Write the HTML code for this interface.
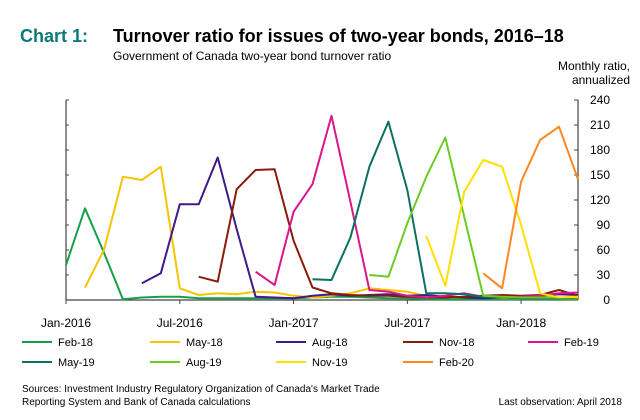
<!DOCTYPE html>
<html><head><meta charset="utf-8"><style>
body{margin:0;background:#fff;width:640px;height:415px;overflow:hidden;font-family:"Liberation Sans",Arial,sans-serif;}
</style></head><body>
<svg id="c" width="640" height="415" xmlns="http://www.w3.org/2000/svg">
<text x="20" y="42" font-size="18" font-weight="bold" fill="#0b7a7a">Chart 1:</text>
<text x="113" y="42" font-size="18" font-weight="bold" fill="#000">Turnover ratio for issues of two-year bonds, 2016–18</text>
<text x="113" y="60" font-size="12" fill="#000">Government of Canada two-year bond turnover ratio</text>
<text x="630" y="70" font-size="12" text-anchor="end">Monthly ratio,</text>
<text x="630" y="84" font-size="12" text-anchor="end">annualized</text>
<g id="axes"></g><g id="series"></g><g id="legend"></g>
<text x="22" y="392" font-size="10">Sources: Investment Industry Regulatory Organization of Canada's Market Trade</text>
<text x="22" y="405" font-size="10">Reporting System and Bank of Canada calculations</text>
<text x="622" y="405" font-size="10" text-anchor="end">Last observation: April 2018</text>
</svg>
<script>
const yTicks=[0,30,60,90,120,150,180,210,240];
const xLabels=["Jan-2016","Jul-2016","Jan-2017","Jul-2017","Jan-2018"];
const xLabelMonths=[0,6,12,18,24];
const seriesNames=["Feb-18","May-18","Aug-18","Nov-18","Feb-19","May-19","Aug-19","Nov-19","Feb-20"];
const seriesColors=["#12a04a","#f7c400","#3f1a8a","#8b1a0a","#d9168c","#0b7060","#6acc22","#ffe000","#ff8820"];
const s0=[42,110,57,1,3,4,4,2,2,2,2,2,2,3,4,4,3,2,2,1,1,1,1,1,1,1,1,1];
const s1=[null,15,60,148,144,160,14,6,8,7,10,9,5,3,5,8,14,12,10,5,3,3,3,2,2,2,2,2];
const s2=[null,null,null,null,20,32,115,115,171,85,4,3,2,5,7,5,6,7,5,6,4,3,2,3,3,5,7,6];
const s3=[null,null,null,null,null,null,null,28,22,133,156,157,71,15,8,6,5,5,4,3,3,4,5,6,5,6,12,5];
const s4=[null,null,null,null,null,null,null,null,null,null,34,18,106,139,221,118,12,10,5,3,5,8,4,3,4,5,8,9];
const s5=[null,null,null,null,null,null,null,null,null,null,null,null,null,25,24,75,160,214,132,8,8,7,4,3,2,2,2,3];
const s6=[null,null,null,null,null,null,null,null,null,null,null,null,null,null,null,null,30,28,92,148,195,100,5,4,3,3,3,4];
const s7=[null,null,null,null,null,null,null,null,null,null,null,null,null,null,null,null,null,null,null,77,17,130,168,160,90,8,3,4];
const s8=[null,null,null,null,null,null,null,null,null,null,null,null,null,null,null,null,null,null,null,null,null,null,32,14,142,192,208,145];
const allSeries=[s0,s1,s2,s3,s4,s5,s6,s7,s8];
const NS="http://www.w3.org/2000/svg";
const X0=66,X1=578,Y0=300,Y1=100,NM=27;
const xs=m=>X0+(X1-X0)*m/NM;
const ys=v=>Y0-(Y0-Y1)*v/240;
function mk(t,a,p){const e=document.createElementNS(NS,t);for(const k in a)e.setAttribute(k,a[k]);p.appendChild(e);return e;}
const ax=document.getElementById('axes');
let e=mk('line',{x1:X0,y1:Y1,x2:X0,y2:Y0,stroke:'#444','stroke-width':1.2},ax);

e=mk('line',{x1:X1,y1:Y1,x2:X1,y2:Y0,stroke:'#444','stroke-width':1.2},ax);

e=mk('line',{x1:X0,y1:Y0,x2:X1,y2:Y0,stroke:'#444','stroke-width':1.2},ax);

yTicks.forEach(v=>{
 mk('line',{x1:X0,y1:ys(v),x2:X0+3,y2:ys(v),stroke:'#444'},ax);
 mk('line',{x1:X1-4,y1:ys(v),x2:X1,y2:ys(v),stroke:'#444'},ax);
 const t=mk('text',{x:610,y:ys(v)+4,'font-size':12,'text-anchor':'end'},ax);t.textContent=v;
 
});
xLabels.forEach((l,i)=>{
 const x=xs(xLabelMonths[i]);
 mk('line',{x1:x,y1:Y0,x2:x,y2:Y0+4,stroke:'#444'},ax);
 const t=mk('text',{x:x,y:327,'font-size':12,'text-anchor':'middle'},ax);t.textContent=l;
 
});
const sg=document.getElementById('series');
allSeries.forEach((s,i)=>{
 let d='',pen=false;
 s.forEach((v,m)=>{if(v==null){pen=false;return;}d+=(pen?'L':'M')+xs(m).toFixed(1)+' '+ys(v).toFixed(1);pen=true;});
 const p=mk('path',{d:d,fill:'none',stroke:seriesColors[i],'stroke-width':2,'stroke-linejoin':'round'},sg);
 
 
});
const lg=document.getElementById('legend');
const lx=[22,150,276,403,528];
seriesNames.forEach((n,i)=>{
 const r=i<5?0:1,c=i<5?i:i-5,y=342+r*20;
 const g=mk('g',{},lg);
 
 
 mk('line',{x1:lx[c],y1:y,x2:lx[c]+30,y2:y,stroke:seriesColors[i],'stroke-width':2},g);
 const t=mk('text',{x:lx[c]+36,y:y+4,'font-size':11},g);t.textContent=n;
});
</script>
</body></html>
